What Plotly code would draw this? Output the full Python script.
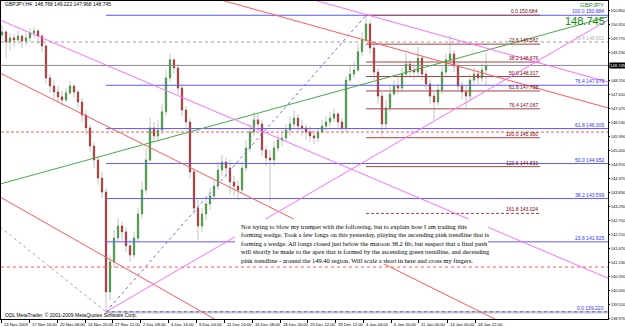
import plotly.graph_objects as go

# ---------------- data (GBPJPY, H4) ----------------
opens = [149.92,150.04,149.65,149.81,149.73,149.88,149.69,149.81,150.00,150.08,
         149.88,149.50,148.26,147.95,147.72,147.53,147.41,147.68,147.95,147.72,
         147.33,146.83,146.33,145.63,145.09,144.39,143.85,139.99,141.15,142.07,
         142.54,142.31,141.77,141.42,142.07,143.00,143.93,145.09,146.33,146.02,
         146.25,146.95,148.26,148.96,148.65,147.87,147.02,146.56,144.63,143.23,
         142.54,143.00,143.39,143.70,144.08,144.70,145.01,144.78,144.24,144.08,
         143.93,144.78,145.55,146.17,146.64,146.48,145.48,145.17,145.09,145.55,
         145.86,145.94,146.25,146.48,146.71,146.40,146.33,146.17,146.02,145.94,
         146.17,146.40,146.56,146.71,146.87,146.56,146.33,148.18,148.41,148.57,
         149.27,149.73,150.35,149.42,148.49,147.56,146.48,147.10,147.64,147.95,
         147.87,148.41,148.80,148.57,148.49,149.03,148.41,148.03,147.56,147.33,
         147.80,148.49,148.96,149.19,148.72,147.95,147.72,147.56,148.18,148.41,
         148.26,148.57]
highs = [150.31,150.12,150.00,149.96,150.08,149.96,150.00,150.19,150.23,150.15,
         149.96,149.57,148.41,148.18,147.95,147.76,147.87,148.14,148.03,147.80,
         147.49,147.02,146.44,145.79,145.24,144.63,144.01,141.42,142.38,142.85,
         142.69,142.46,142.00,142.31,143.23,144.24,145.55,146.71,146.56,146.64,
         147.25,148.57,149.19,149.03,148.80,148.03,147.18,146.71,144.78,143.54,
         143.23,143.70,144.01,144.32,145.01,145.28,145.17,145.09,144.47,144.32,
         145.01,145.86,146.48,146.95,146.87,146.64,145.63,145.48,145.79,146.10,
         146.17,146.48,146.79,147.02,146.87,146.64,146.48,146.40,146.25,146.33,
         146.64,146.79,146.95,147.10,146.95,146.71,148.34,148.72,148.88,149.57,
         150.04,150.684,150.50,149.57,148.65,147.72,147.41,147.95,148.18,148.26,
         148.65,149.23,148.96,148.80,149.46,149.11,148.57,148.18,147.72,148.03,
         148.72,149.19,149.92,149.34,148.88,148.10,147.95,148.41,148.65,148.57,
         148.80,149.22]
lows = [149.73,149.03,149.34,149.46,149.57,149.42,149.54,149.65,149.81,149.57,
        149.27,148.03,147.68,147.45,147.29,147.18,147.33,147.60,147.49,147.10,
        146.56,146.06,145.40,144.78,144.12,143.62,139.22,139.68,140.91,141.92,
        142.00,141.53,141.15,141.30,141.92,142.85,143.78,145.01,145.79,145.86,
        146.10,146.79,148.10,148.41,147.64,146.79,146.33,144.39,143.00,142.00,
        142.31,142.77,143.16,143.54,143.93,144.47,144.39,143.78,143.70,143.54,
        143.78,144.63,145.40,146.02,146.25,145.24,144.86,143.47,144.86,145.40,
        145.63,145.79,146.02,146.33,146.17,146.02,145.86,145.79,145.71,145.79,
        146.10,146.25,146.40,146.56,146.33,146.10,146.17,148.10,148.26,148.49,
        149.11,149.65,149.19,148.18,147.25,145.94,146.25,146.95,147.56,147.64,
        147.72,148.26,148.26,148.18,148.34,148.18,147.80,147.25,146.64,147.18,
        147.64,148.34,148.80,148.49,147.72,147.41,147.10,147.41,148.03,148.03,
        148.10,147.97]
closes = [150.04,149.65,149.81,149.73,149.88,149.69,149.81,150.00,150.08,149.88,
          149.50,148.26,147.95,147.72,147.53,147.41,147.68,147.95,147.72,147.33,
          146.83,146.33,145.63,145.09,144.39,143.85,139.99,141.15,142.07,142.54,
          142.31,141.77,141.42,142.07,143.00,143.93,145.09,146.33,146.02,146.25,
          146.95,148.26,148.96,148.65,147.87,147.02,146.56,144.63,143.23,142.54,
          143.00,143.39,143.70,144.08,144.70,145.01,144.78,144.24,144.08,143.93,
          144.78,145.55,146.17,146.64,146.48,145.48,145.17,145.09,145.55,145.86,
          145.94,146.25,146.48,146.71,146.40,146.33,146.17,146.02,145.94,146.17,
          146.40,146.56,146.71,146.87,146.56,146.33,148.18,148.41,148.57,149.27,
          149.73,150.35,149.42,148.49,147.56,146.48,147.10,147.64,147.95,147.87,
          148.41,148.80,148.57,148.49,149.03,148.41,148.03,147.56,147.33,147.80,
          148.49,148.96,149.19,148.72,147.95,147.72,147.56,148.18,148.41,148.26,
          148.57,148.745]
bars = list(range(len(closes)))

bid_price = 148.745
info_text = "GBPJPY,H4  148.768 149.222 147.968 148.745"

price_ticks = [150.850, 150.310, 149.770, 149.230, 148.690, 148.150, 147.610, 147.070,
               146.530, 145.990, 145.450, 144.910, 144.370, 143.830, 143.290, 142.750,
               142.210, 141.670, 141.130, 140.590, 140.050, 139.510, 138.970]

time_tick_bars = [-0.25, 6.75, 13.75, 20.75, 27.5, 34.5, 41.5, 48.5, 55.5, 62.5,
                  69.5, 76.25, 83.25, 90.25, 97.25, 104.0, 111.25, 118.25]
time_tick_labels = ["13 Nov 2009", "17 Nov 16:00", "20 Nov 08:00", "24 Nov 20:00",
                    "27 Nov 12:00", "2 Dec 08:00", "4 Dec 16:00", "9 Dec 04:00",
                    "11 Dec 20:00", "16 Dec 08:00", "18 Dec 20:00", "23 Dec 12:00",
                    "29 Dec 12:00", "4 Jan 04:00", "6 Jan 20:00", "11 Jan 00:00",
                    "14 Jan 00:00", "18 Jan 12:00"]

# Fibonacci retracements
blue_fib_levels = [0.0, 23.6, 38.2, 50.0, 61.8, 76.4, 100.0]
blue_fib_prices = [139.220, 141.925, 143.599, 144.952, 146.305, 147.979, 150.684]
blue_fib_span = [26, 151.5]

maroon_fib_levels = [0.0, 23.6, 38.2, 50.0, 61.8, 76.4, 100.0, 123.6, 161.8]
maroon_fib_prices = [150.684, 149.567, 148.876, 148.317, 147.758, 147.067, 145.950, 144.833, 143.024]
maroon_fib_span = [91, 134.5]

# full-width horizontal levels
grey_level_price = 149.651
grey_level_label = "76.4 149.651"
red_dash_price = 146.17
red_dot_price = 140.95
grey_floor_price = 139.20

# trendlines: endpoints as (bar, price)
green_x, green_y = [-0.5, 151.5], [144.16, 150.62]
pink_upper_x, pink_upper_y = [78, 151.5], [151.275, 148.10]
pink_lower_x, pink_lower_y = [-0.5, 151.5], [150.50, 140.52]
pink_rise_x, pink_rise_y = [26, 151.5], [139.22, 150.50]
red_top_x, red_top_y = [54.75, 151.5], [151.275, 147.10]
red_mid_x, red_mid_y = [-0.5, 123.75], [148.45, 138.90]
red_low_x, red_low_y = [-0.5, 54.5], [143.66, 138.82]
fib_base_x, fib_base_y = [26, 91], [139.22, 150.684]
grey_base_x, grey_base_y = [-0.5, 26], [142.50, 139.22]

note_lines = [
    "Not trying to blow my trumpet with the following, but to explain how I am trading this",
    "forming wedge. Took a few longs on this yesterday, playing the ascending pink trendline that is",
    "forming a wedge. All longs closed just below the maroon 38.2 fib, but suspect that a final push",
    "will shortly be made to the apex that is formed by the ascending green trendline, and decending",
    "pink trendline - around the 149.40 region. Will scale a short in here and cross my fingers.",
]

# ---------------- styles ----------------
X_RANGE = [-0.25, 151.5]
Y_RANGE = [138.942, 151.236]
WICK = "#c4c4c4"
BULL = "#3a963a"
BEAR = "#ad2a2a"
BLUE = "#5a5aff"
MAROON = "#a84444"
RED = "#ff5a5a"
PINK = "#ff6dff"
GREEN = "#4aa84a"
SMALL = dict(family="Liberation Sans", size=5, color="black")
TINY = dict(family="Liberation Sans", size=4.2, color="black")
SCALE = dict(family="Liberation Sans Narrow, Liberation Sans", size=4.0, color="black")

fig = go.Figure()

# wicks (grey full candles) then coloured bodies
fig.add_trace(go.Candlestick(
    x=bars, open=opens, high=highs, low=lows, close=closes,
    increasing=dict(line=dict(color=WICK, width=1), fillcolor=WICK),
    decreasing=dict(line=dict(color=WICK, width=1), fillcolor=WICK),
    whiskerwidth=0, hoverinfo="skip", showlegend=False))
body_hi = [max(o, c) for o, c in zip(opens, closes)]
body_lo = [min(o, c) for o, c in zip(opens, closes)]
fig.add_trace(go.Candlestick(
    x=bars, open=opens, high=body_hi, low=body_lo, close=closes,
    increasing=dict(line=dict(color=BULL, width=0.6), fillcolor=BULL),
    decreasing=dict(line=dict(color=BEAR, width=0.6), fillcolor=BEAR),
    whiskerwidth=0, hoverinfo="skip", showlegend=False))


def add_line(xs, ys, color, width=1, dash="solid"):
    fig.add_trace(go.Scatter(x=xs, y=ys, mode="lines",
                             line=dict(color=color, width=width, dash=dash),
                             hoverinfo="skip", showlegend=False))


# full-width horizontal lines
add_line([grey_base_x[1], X_RANGE[1]], [grey_floor_price] * 2, "#cccccc", 2.5)
add_line(X_RANGE, [grey_level_price] * 2, "#9a9a9a", 1, "dot")
add_line(X_RANGE, [red_dash_price] * 2, RED, 1, "3px,2px")
add_line(X_RANGE, [red_dot_price] * 2, RED, 1, "dot")
add_line(X_RANGE, [bid_price] * 2, "#8a8a8a", 1)

# fibonacci levels
for lvl, p in zip(blue_fib_levels, blue_fib_prices):
    add_line(blue_fib_span, [p, p], BLUE, 1, "dot" if lvl == 0.0 else "solid")
for lvl, p in zip(maroon_fib_levels, maroon_fib_prices):
    add_line(maroon_fib_span, [p, p], MAROON, 1, "3px,2px" if lvl == 161.8 else "solid")

# trendlines
add_line(grey_base_x, grey_base_y, "#a8a8a8", 1, "dot")
add_line(fib_base_x, fib_base_y, "#6a6aff", 1, "dot")
add_line(red_mid_x, red_mid_y, RED)
add_line(red_low_x, red_low_y, RED)
add_line(red_top_x, red_top_y, RED)
add_line(green_x, green_y, GREEN)
add_line(pink_lower_x, pink_lower_y, PINK)
add_line(pink_upper_x, pink_upper_y, PINK)
add_line(pink_rise_x, pink_rise_y, PINK)

ann = []
# fib labels
for lvl, p in zip(blue_fib_levels, blue_fib_prices):
    ann.append(dict(x=blue_fib_span[1], y=p, xref="x", yref="y", xanchor="right", yanchor="bottom",
                    text=f"{lvl:.1f} {p:.3f}", showarrow=False, xshift=-2, yshift=-1,
                    font=dict(family="Liberation Sans", size=5, color="#3030ff")))
for lvl, p in zip(maroon_fib_levels, maroon_fib_prices):
    ann.append(dict(x=maroon_fib_span[1], y=p, xref="x", yref="y", xanchor="right", yanchor="bottom",
                    text=f"{lvl:.1f} {p:.3f}", showarrow=False, yshift=-1,
                    font=dict(family="Liberation Sans", size=5, color="#800000")))
ann.append(dict(x=X_RANGE[1], y=grey_level_price, xref="x", yref="y", xanchor="right", yanchor="bottom",
                text=grey_level_label, showarrow=False, xshift=-2, yshift=-1,
                font=dict(family="Liberation Sans", size=5, color="#b0b0b0")))

# time axis labels (left aligned after the tick like MetaTrader)
for tb, tl in zip(time_tick_bars, time_tick_labels):
    ann.append(dict(x=tb, y=0, xref="x", yref="paper", xanchor="left", yanchor="top",
                    text=tl, showarrow=False, xshift=1, yshift=-1, font=TINY))

# current price box on the price scale (hides the scale label beneath it)
ann.append(dict(x=1, y=bid_price, xref="paper", yref="y", xanchor="left", yanchor="middle",
                text=f"{bid_price:.3f}", showarrow=False, xshift=1, bgcolor="black", borderpad=0,
                font=dict(family="Liberation Sans Narrow, Liberation Sans", size=4.2, color="white")))

# header texts
ann.append(dict(x=0.0033, y=0.9906, xref="paper", yref="paper", xanchor="left", yanchor="middle",
                text=info_text, showarrow=False, font=SMALL))
ann.append(dict(x=0.9967, y=0.9874, xref="paper", yref="paper", xanchor="right", yanchor="middle",
                text="GBPJPY", showarrow=False,
                font=dict(family="Liberation Sans", size=6, color="#1a8a1a")))
ann.append(dict(x=0.9990, y=0.937, xref="paper", yref="paper", xanchor="right", yanchor="middle",
                text=f"{bid_price:.3f}", showarrow=False,
                font=dict(family="Liberation Sans", size=11, color="#0f8a0f")))
ann.append(dict(x=0.0033, y=0.0126, xref="paper", yref="paper", xanchor="left", yanchor="middle",
                text="ODL MetaTrader, \u00a9 2001-2009 MetaQuotes Software Corp.", showarrow=False,
                font=SMALL))

# note text
ann.append(dict(x=0.3921, y=0.3082, xref="paper", yref="paper", xanchor="left", yanchor="top",
                align="left", text="<br>".join(note_lines), showarrow=False,
                font=dict(family="Liberation Serif", size=6.5, color="black")))

shapes = [dict(type="rect", xref="paper", yref="paper", x0=0.3855, x1=0.8023, y0=0.1730, y1=0.3145,
               fillcolor="white", line=dict(width=0), layer="above")]

# scale label hidden under the current-price box, as in the terminal
tick_text = ["" if abs(p - bid_price) < 0.1 else f"{p:.3f}" for p in price_ticks]

fig.update_layout(
    template="none",
    width=625, height=327,
    margin=dict(l=1, r=17, t=1, b=8),
    paper_bgcolor="white", plot_bgcolor="white",
    showlegend=False, boxgap=0.55,
    annotations=ann, shapes=shapes,
    xaxis=dict(range=X_RANGE, showgrid=False, zeroline=False, showline=True, mirror=True,
               linecolor="black", linewidth=1, ticks="outside", ticklen=3, tickcolor="black",
               tickvals=time_tick_bars, showticklabels=False, rangeslider=dict(visible=False),
               automargin=False, fixedrange=True),
    yaxis=dict(range=Y_RANGE, side="right", showgrid=False, zeroline=False, showline=True,
               mirror=True, linecolor="black", linewidth=1, ticks="outside", ticklen=1,
               tickcolor="black", tickvals=price_ticks, ticktext=tick_text,
               tickfont=SCALE, automargin=False, fixedrange=True),
)

fig.write_html("out.html", config={"displayModeBar": False})
